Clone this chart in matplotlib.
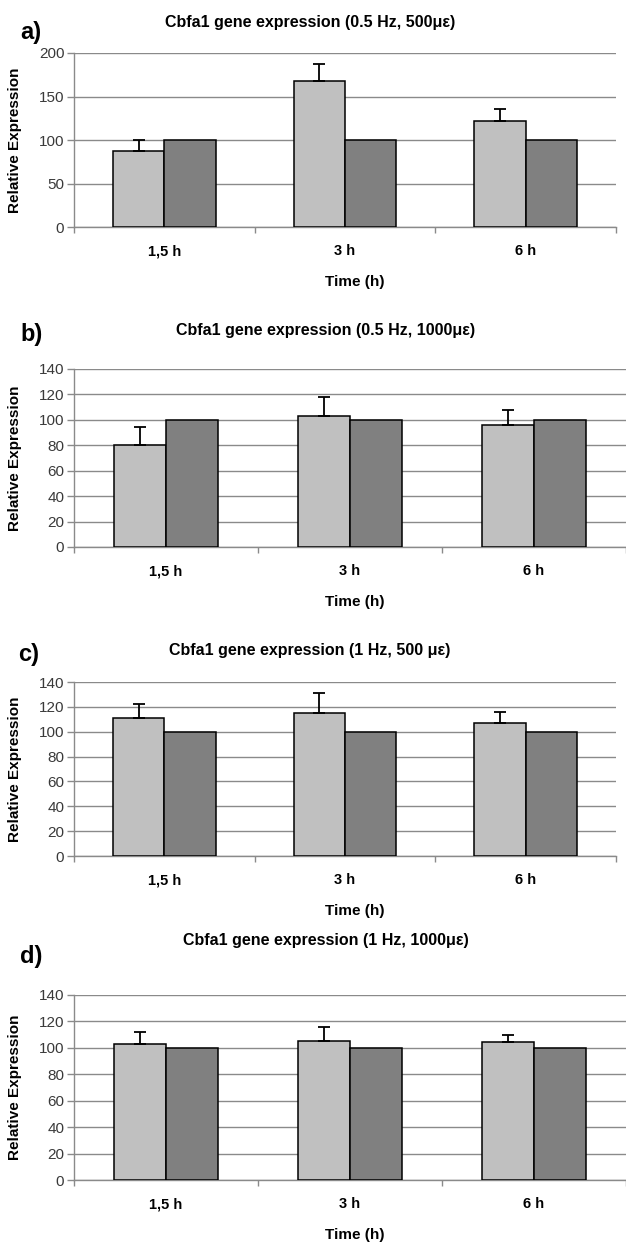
import numpy as np
import matplotlib.pyplot as plt

plt.rcParams['font.family'] = ['Liberation Sans', 'DejaVu Sans']

# data
times = ['1,5 h', '3 h', '6 h']
titles = ['Cbfa1 gene expression (0.5 Hz, 500με)',
          'Cbfa1 gene expression (0.5 Hz, 1000με)',
          'Cbfa1 gene expression (1 Hz, 500 με)',
          'Cbfa1 gene expression (1 Hz, 1000με)']
letters = ['a)', 'b)', 'c)', 'd)']
loaded_a = [87.5, 167.5, 121.5]
err_a = [12, 19.5, 14]
loaded_b = [80, 103, 96]
err_b = [14, 15, 12]
loaded_c = [110.7, 115.2, 106.7]
err_c = [12, 16, 9]
loaded_d = [103, 105.5, 104.5]
err_d = [9, 10, 5.5]
control = [100, 100, 100]
ymax = [200, 140, 140, 140]
ystep = [50, 20, 20, 20]

loaded = [loaded_a, loaded_b, loaded_c, loaded_d]
errs = [err_a, err_b, err_c, err_d]

W, H = 626, 1243
fig = plt.figure(figsize=(W / 100, H / 100), dpi=100)

# axes boxes in pixels: left, right, top, bottom
boxes = [(74, 616, 53, 227),
         (74, 626, 369, 547),
         (74, 616, 682, 856),
         (74, 626, 995, 1180)]
title_pos = [(310, 22), (326, 331), (310, 650), (326, 940)]
letter_pos = [(20, 32), (20, 335), (18, 655), (20, 957)]

light = '#c0c0c0'
dark = '#808080'
grid_c = '#8a8a8a'
bw = 0.285

for k in range(4):
    l, r, t, b = boxes[k]
    aw, ah = r - l, b - t
    ax = fig.add_axes([l / W, 1 - b / H, aw / W, ah / H])
    x = np.arange(3) + 0.5
    ax.bar(x - bw / 2, loaded[k], bw, color=light, edgecolor='black', lw=1.1, zorder=3)
    ax.bar(x + bw / 2, control, bw, color=dark, edgecolor='black', lw=1.1, zorder=3)
    ax.errorbar(x - bw / 2, loaded[k], yerr=[np.zeros(3), errs[k]], fmt='none',
                ecolor='black', elinewidth=1.3, capsize=4.3, capthick=1.3, zorder=4)

    ax.set_xlim(0, 3)
    ax.set_ylim(0, ymax[k])
    ax.set_yticks(np.arange(0, ymax[k] + 1, ystep[k]))
    ax.yaxis.grid(True, color=grid_c, lw=1.0, zorder=0)
    ax.set_axisbelow(True)
    for s in ['top', 'right']:
        ax.spines[s].set_visible(False)
    for s in ['left', 'bottom']:
        ax.spines[s].set_color(grid_c)
        ax.spines[s].set_linewidth(1.0)
    ax.tick_params(axis='y', colors=grid_c, length=5, width=1.0, labelsize=11,
                   labelcolor='#3a3a3a', pad=2)

    ax.set_xticks(x)
    ax.set_xticklabels(times, fontweight='bold', fontsize=10.5)
    for lab in ax.get_xticklabels():
        lab.set_va('baseline')
    ax.tick_params(axis='x', length=0, pad=20.5)
    ax.set_xticks([0, 1, 2, 3], minor=True)
    ax.tick_params(axis='x', which='minor', length=4, color=grid_c, width=1.0)

    ax.set_xlabel('Time (h)', fontweight='bold', fontsize=11, va='center')
    ax.xaxis.set_label_coords((355 - l) / aw, -55 / ah)
    ax.set_ylabel('Relative Expression', fontweight='bold', fontsize=11, va='center')
    ax.yaxis.set_label_coords((15 - l) / aw, 0.5)

    tx, ty = title_pos[k]
    fig.text(tx / W, 1 - ty / H, titles[k], ha='center', va='center',
             fontweight='bold', fontsize=11.5)
    lx, ly = letter_pos[k]
    fig.text(lx / W, 1 - ly / H, letters[k], ha='left', va='center',
             fontweight='bold', fontsize=17)

fig.savefig('out.png', dpi=100)
